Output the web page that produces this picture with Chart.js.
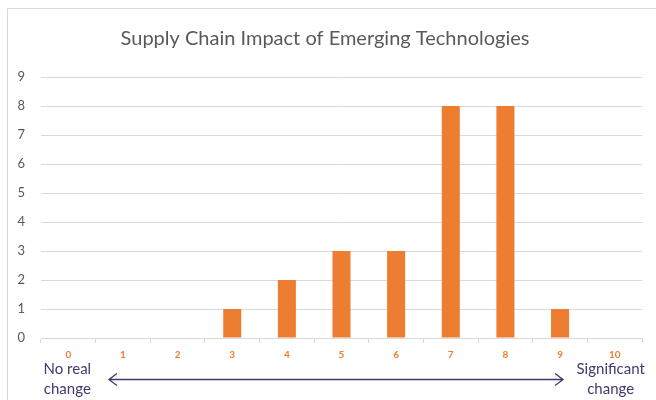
<!DOCTYPE html>
<html>
<head>
<meta charset="utf-8">
<script src="https://cdn.jsdelivr.net/npm/chart.js@4/dist/chart.umd.min.js"></script>
<style>
    html, body { margin: 0; padding: 0; background: #fff; }
    #wrap { width: 656px; height: 400px; position: relative; }
</style>
</head>
<body>
<div id="wrap"><canvas id="impactChart" width="656" height="400"></canvas></div>
<script>
// scores 0..10 and how many answers landed on each
const scores = ["0", "1", "2", "3", "4", "5", "6", "7", "8", "9", "10"];
const counts = [0, 0, 0, 1, 2, 3, 3, 8, 8, 1, 0];
const yTicks = [0, 1, 2, 3, 4, 5, 6, 7, 8, 9];
const leftNote = ["No real", "change"];
const rightNote = ["Significant", "change"];

const FONT = "Lato, 'Open Sans', sans-serif";
const ORANGE = "#ED7D31";
const PURPLE = "#47366E";

// light frame around the whole chart, cut off at right/bottom like the screenshot
const framePlugin = {
    id: "frame",
    beforeDraw(chart) {
        const c = chart.ctx;
        c.save();
        c.strokeStyle = "#D9D9D9";
        c.lineWidth = 1;
        c.beginPath();
        c.moveTo(7.5, chart.height + 5);
        c.lineTo(7.5, 8.5);
        c.lineTo(chart.width + 5, 8.5);
        c.stroke();
        c.restore();
    },
};

// "No real change  <----->  Significant change" under the axis
const scalePlugin = {
    id: "scaleNote",
    afterDraw(chart) {
        const c = chart.ctx;
        const x = chart.scales.x;
        const left = x.getPixelForValue(0);
        const right = x.getPixelForValue(10);
        const a1 = x.getPixelForValue(1) - 14;
        const a2 = x.getPixelForValue(9) + 3;
        const ay = 379.5;

        c.save();
        c.fillStyle = PURPLE;
        c.font = "15px " + FONT;
        c.textAlign = "center";
        c.textBaseline = "middle";
        c.fillText(leftNote[0], left - 1, 369);
        c.fillText(leftNote[1], left - 1, 389);
        c.fillText(rightNote[0], right - 4, 369);
        c.fillText(rightNote[1], right - 4, 389);

        c.strokeStyle = PURPLE;
        c.lineWidth = 1.3;
        c.beginPath();
        c.moveTo(a1, ay);
        c.lineTo(a2, ay);
        c.moveTo(a1 + 8, ay - 6);
        c.lineTo(a1, ay);
        c.lineTo(a1 + 8, ay + 6);
        c.moveTo(a2 - 8, ay - 6);
        c.lineTo(a2, ay);
        c.lineTo(a2 - 8, ay + 6);
        c.stroke();
        c.restore();
    },
};

const ctx = document.getElementById("impactChart");
const chart = new Chart(ctx, {
    type: "bar",
    data: {
        labels: scores,
        datasets: [
            {
                label: "Responses",
                data: counts,
                backgroundColor: ORANGE,
                borderWidth: 0,
                barPercentage: 0.33,
                categoryPercentage: 1,
            },
        ],
    },
    options: {
        responsive: false,
        animation: false,
        devicePixelRatio: 1,
        layout: {
            padding: { left: 8, right: 14, top: 0, bottom: 0 },
        },
        plugins: {
            legend: { display: false },
            tooltip: { enabled: false },
            title: {
                display: true,
                text: "Supply Chain Impact of Emerging Technologies",
                color: "#595959",
                font: { family: FONT, size: 20, weight: "normal" },
                padding: { top: 27, bottom: 26 },
            },
        },
        scales: {
            y: {
                min: 0,
                max: 9,
                afterBuildTicks: (s) => {
                    s.ticks = yTicks.map((v) => ({ value: v }));
                },
                afterFit: (s) => {
                    s.width = 33;
                },
                border: { display: false },
                grid: {
                    color: "#D9D9D9",
                    drawTicks: false,
                },
                ticks: {
                    color: "#595959",
                    font: { family: FONT, size: 13 },
                    padding: 16,
                },
            },
            x: {
                afterFit: (s) => {
                    s.height = 62;
                },
                border: { display: true, color: "#D9D9D9" },
                grid: {
                    offset: true,
                    drawOnChartArea: false,
                    drawTicks: true,
                    tickLength: 5,
                    color: "#D9D9D9",
                },
                ticks: {
                    color: ORANGE,
                    font: { family: FONT, size: 10, weight: "bold" },
                    padding: 6,
                    maxRotation: 0,
                },
            },
        },
    },
    plugins: [framePlugin, scalePlugin],
});
</script>
</body>
</html>
